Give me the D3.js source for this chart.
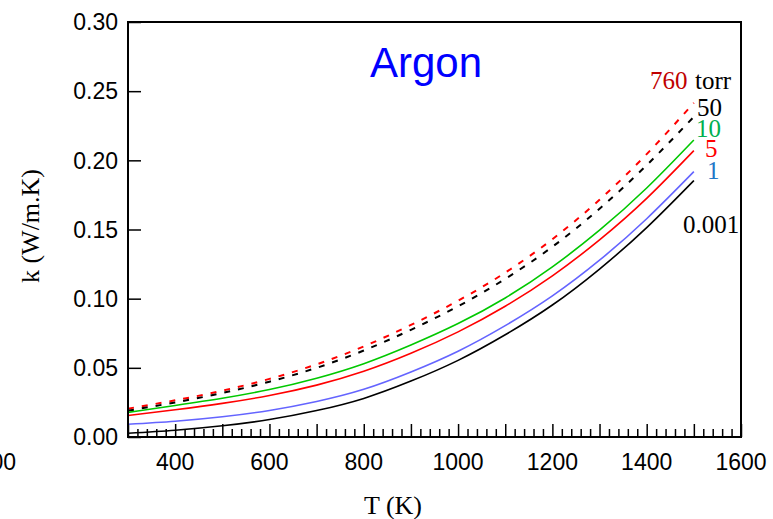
<!DOCTYPE html>
<html>
<head>
<meta charset="utf-8">
<script src="https://cdn.jsdelivr.net/npm/d3@7"></script>
<style>
  body { margin: 0; background: #fff; }
  .axis path { display: none; }
  .axis line { stroke: #000; stroke-width: 1.5; }
</style>
</head>
<body>
<div class="canvas"></div>
<script>
// temperatures (K)
const temps = [300, 400, 500, 600, 700, 800, 900, 1000, 1100, 1200, 1300, 1400, 1500];

// thermal conductivity k (W/m.K), one array per pressure
const k760 = [0.0205, 0.0265, 0.0335, 0.042, 0.0525, 0.0655, 0.081, 0.0985, 0.1188, 0.143, 0.1715, 0.2045, 0.2415];
const k50 = [0.019, 0.025, 0.0318, 0.04, 0.05, 0.0625, 0.0775, 0.0945, 0.1143, 0.1375, 0.165, 0.1965, 0.2315];
const k10 = [0.0178, 0.0228, 0.028, 0.0343, 0.0425, 0.053, 0.0665, 0.082, 0.1005, 0.123, 0.1495, 0.18, 0.2147];
const k5 = [0.0155, 0.0197, 0.0243, 0.03, 0.0375, 0.0475, 0.0605, 0.076, 0.0945, 0.1165, 0.1425, 0.1725, 0.207];
const k1 = [0.0092, 0.0114, 0.0146, 0.0192, 0.0257, 0.0345, 0.047, 0.062, 0.0805, 0.102, 0.1278, 0.1578, 0.1918];
const k0001 = [0.0027, 0.0049, 0.0081, 0.0126, 0.0191, 0.0279, 0.0404, 0.0554, 0.0739, 0.0954, 0.1214, 0.1514, 0.1854];

const xTickLabels = [400, 600, 800, 1000, 1200, 1400, 1600];
const yTickValues = [0, 0.05, 0.1, 0.15, 0.2, 0.25, 0.3];

const series = [
  { name: "760", values: k760, color: "#ff0000", dash: "6,8", width: 2 },
  { name: "50", values: k50, color: "#000000", dash: "6,8", width: 2 },
  { name: "10", values: k10, color: "#00c800", dash: null, width: 1.6 },
  { name: "5", values: k5, color: "#ff0000", dash: null, width: 1.6 },
  { name: "1", values: k1, color: "#6464ff", dash: null, width: 1.6 },
  { name: "0.001", values: k0001, color: "#000000", dash: null, width: 1.6 }
];

const width = 773;
const height = 519;
const plotLeft = 128, plotRight = 741, plotTop = 22, plotBottom = 437;

const svg = d3
  .select(".canvas")
  .append("svg")
  .attr("width", width)
  .attr("height", height);

const xScale = d3.scaleLinear().domain([300, 1600]).range([plotLeft, plotRight]);
const yScale = d3.scaleLinear().domain([0, 0.3]).range([plotBottom, plotTop]);

// minor and major ticks on the bottom, pointing inwards
const minor = d3.range(300, 1601, 20).filter((d) => d % 100 !== 0);
const major = d3.range(300, 1601, 100);

svg
  .append("g")
  .attr("class", "axis")
  .attr("transform", `translate(0,${plotBottom})`)
  .call(d3.axisBottom(xScale).tickValues(minor).tickSize(-8).tickFormat(""));

svg
  .append("g")
  .attr("class", "axis")
  .attr("transform", `translate(0,${plotBottom})`)
  .call(d3.axisBottom(xScale).tickValues(major).tickSize(-13).tickFormat(""));

svg
  .append("g")
  .attr("class", "axis")
  .attr("transform", `translate(${plotLeft},0)`)
  .call(d3.axisLeft(yScale).tickValues(yTickValues).tickSize(-13).tickFormat(""));

// tick labels
const sans = "Liberation Sans, Arial, sans-serif";

svg
  .selectAll(".xlab")
  .data(xTickLabels)
  .enter()
  .append("text")
  .attr("class", "xlab")
  .attr("x", (d) => xScale(d))
  .attr("y", 470)
  .attr("text-anchor", "middle")
  .attr("font-family", sans)
  .attr("font-size", 23)
  .text((d) => d);

// stray "200" label sitting at the left edge
svg
  .append("text")
  .attr("x", 16)
  .attr("y", 470)
  .attr("text-anchor", "end")
  .attr("font-family", sans)
  .attr("font-size", 23)
  .text("200");

svg
  .selectAll(".ylab")
  .data(yTickValues)
  .enter()
  .append("text")
  .attr("class", "ylab")
  .attr("x", 118)
  .attr("y", (d) => yScale(d))
  .attr("dy", "0.36em")
  .attr("text-anchor", "end")
  .attr("font-family", sans)
  .attr("font-size", 23)
  .text((d) => d.toFixed(2));

// curves
const line = d3
  .line()
  .x((d) => xScale(d[0]))
  .y((d) => yScale(d[1]))
  .curve(d3.curveNatural);

series.forEach((s) => {
  svg
    .append("path")
    .datum(temps.map((t, i) => [t, s.values[i]]))
    .attr("d", line)
    .attr("fill", "none")
    .attr("stroke", s.color)
    .attr("stroke-width", s.width)
    .attr("stroke-dasharray", s.dash);
});

// frame
svg
  .append("rect")
  .attr("x", plotLeft)
  .attr("y", plotTop)
  .attr("width", plotRight - plotLeft)
  .attr("height", plotBottom - plotTop)
  .attr("fill", "none")
  .attr("stroke", "black")
  .attr("stroke-width", 2);

// curve labels
const serif = "Liberation Serif, Times New Roman, serif";
const labels = [
  { text: "760", x: 650, y: 89, color: "#c00000" },
  { text: "torr", x: 695, y: 89, color: "#000000" },
  { text: "50", x: 697, y: 116, color: "#000000" },
  { text: "10", x: 696, y: 137, color: "#00b050" },
  { text: "5", x: 705, y: 157, color: "#ff0000" },
  { text: "1", x: 707, y: 179, color: "#1f78c8" },
  { text: "0.001", x: 683, y: 233, color: "#000000" }
];

svg
  .selectAll(".clab")
  .data(labels)
  .enter()
  .append("text")
  .attr("class", "clab")
  .attr("x", (d) => d.x)
  .attr("y", (d) => d.y)
  .attr("fill", (d) => d.color)
  .attr("font-family", serif)
  .attr("font-size", 25)
  .text((d) => d.text);

// title
svg
  .append("text")
  .attr("x", 426)
  .attr("y", 77)
  .attr("text-anchor", "middle")
  .attr("fill", "#0000ff")
  .attr("font-family", sans)
  .attr("font-size", 42)
  .text("Argon");

// axis titles
svg
  .append("text")
  .attr("x", 393)
  .attr("y", 514)
  .attr("text-anchor", "middle")
  .attr("font-family", serif)
  .attr("font-size", 26)
  .text("T (K)");

svg
  .append("text")
  .attr("transform", "translate(39,226) rotate(-90)")
  .attr("text-anchor", "middle")
  .attr("font-family", serif)
  .attr("font-size", 26)
  .text("k (W/m.K)");
</script>
</body>
</html>
